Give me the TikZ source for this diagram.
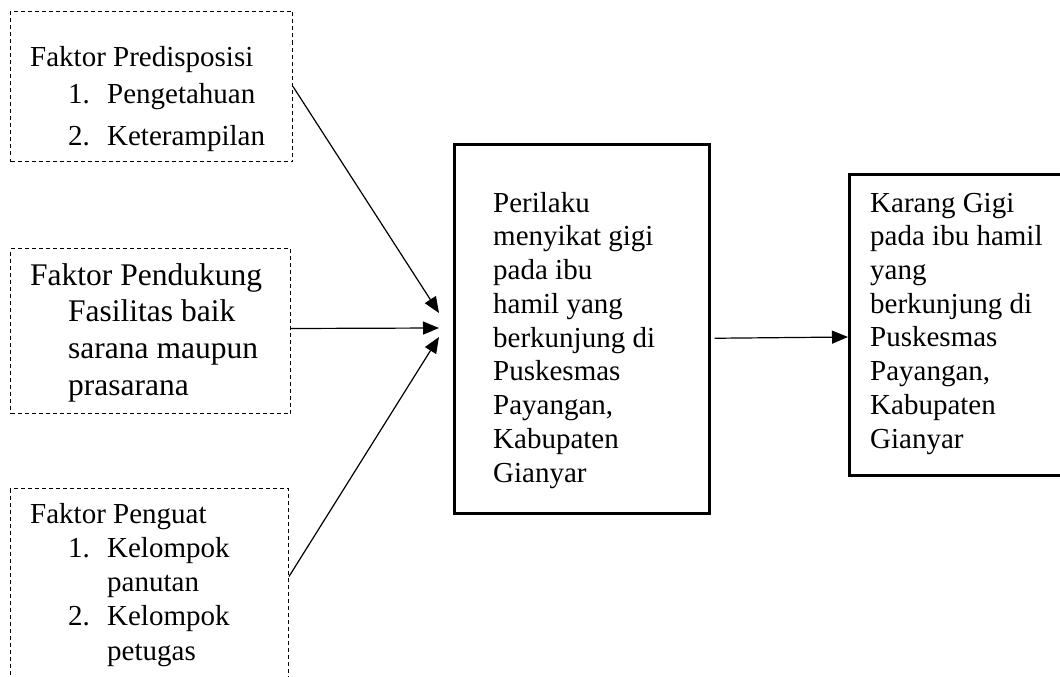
\documentclass[tikz,border=0pt]{standalone}
\usepackage{fontspec}
\setmainfont{Liberation Serif}
\usetikzlibrary{arrows.meta}
\begin{document}
\begin{tikzpicture}[x=1pt,y=-1pt,
 dbox/.style={draw, dash pattern=on 4pt off 3pt, line width=1pt, rectangle, anchor=north west, inner sep=0pt},
 sbox/.style={draw, line width=2.5pt, rectangle, anchor=north west, inner sep=0pt},
 txt/.style={anchor=north west, inner sep=0pt, align=left},
 arr/.style={line width=1.2pt, -{Triangle[length=16pt,width=13pt]}}]
\useasboundingbox (0,0) rectangle (1060,677);
\clip (0,0) rectangle (1060,677);
% boxes
\node[dbox, minimum width=282pt, minimum height=150pt] (b1) at (10,11) {};
\node[dbox, minimum width=280pt, minimum height=165pt] (b2) at (10,248) {};
\node[dbox, minimum width=278pt, minimum height=200pt] (b3) at (10,488) {};
\node[sbox, minimum width=255pt, minimum height=369pt] (mid) at (453,143) {};
\node[sbox, minimum width=240pt, minimum height=301pt] (res) at (848,173) {};
% texts
\node[txt, font=\fontsize{29}{37}\selectfont] (t1) at (30,40.1)
 {\strut Faktor Predisposisi\\
  \hspace*{38pt}\makebox[39pt][l]{1.}Pengetahuan\\[5pt]
  \hspace*{38pt}\makebox[39pt][l]{2.}Keterampilan};
\node[txt, font=\fontsize{31.5}{36.7}\selectfont] (t2) at (30,259.3)
 {\strut Faktor Pendukung\\
  \hspace*{38pt}Fasilitas baik\\
  \hspace*{38pt}sarana maupun\\
  \hspace*{38pt}prasarana};
\node[txt, font=\fontsize{29}{34.25}\selectfont] (t3) at (30,499)
 {\strut Faktor Penguat\\
  \hspace*{38pt}\makebox[39pt][l]{1.}Kelompok\\
  \hspace*{77pt}panutan\\
  \hspace*{38pt}\makebox[39pt][l]{2.}Kelompok\\
  \hspace*{77pt}petugas};
\node[txt, font=\fontsize{29}{33.75}\selectfont] (t4) at (493,188.4)
 {\strut Perilaku\\ menyikat gigi\\ pada ibu\\ hamil yang\\ berkunjung di\\ Puskesmas\\ Payangan,\\ Kabupaten\\ Gianyar};
\node[txt, font=\fontsize{29}{33.7}\selectfont] (t5) at (870,188.4)
 {\strut Karang Gigi\\ pada ibu hamil\\ yang\\ berkunjung di\\ Puskesmas\\ Payangan,\\ Kabupaten\\ Gianyar};
% arrows
\coordinate (h1) at (439,313);
\coordinate (h2) at (439,328);
\coordinate (h3) at (439,337);
\coordinate (h4) at (848,337);
\draw[arr] (b1.east) -- (h1);
\draw[arr] ([yshift=2.5pt]b2.east) -- (h2);
\draw[arr] ([yshift=12pt]b3.east) -- (h3);
\draw[arr] ([xshift=4pt,yshift=-9.5pt]mid.east) -- (h4);
\end{tikzpicture}
\end{document}
